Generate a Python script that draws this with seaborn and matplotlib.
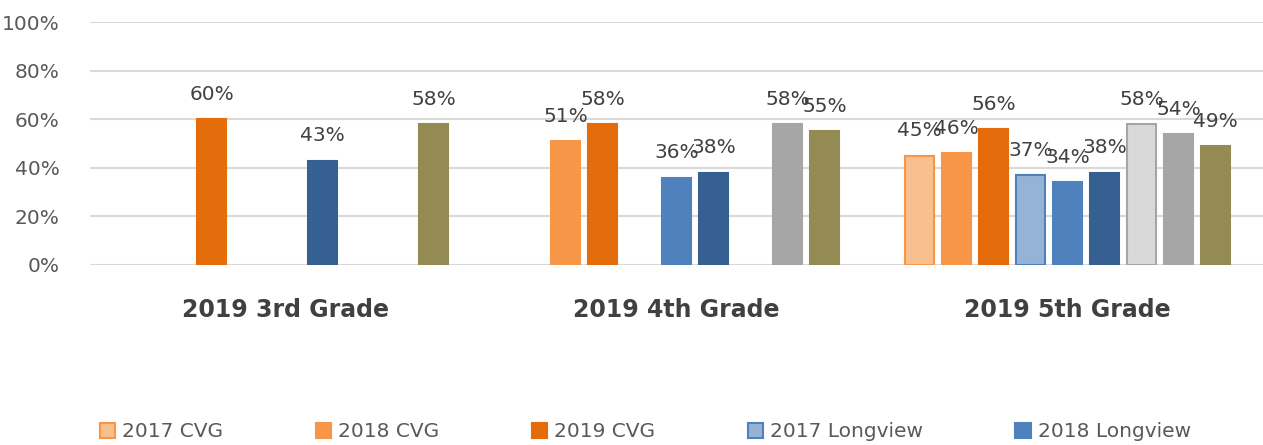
import pandas as pd
import numpy as np
import matplotlib.pyplot as plt
import seaborn as sns
from matplotlib.patches import Patch

# -----------------------------
# Dati
# -----------------------------
grades = ["2019 3rd Grade", "2019 4th Grade", "2019 5th Grade"]
series = ["2017 CVG", "2018 CVG", "2019 CVG",
          "2017 Longview", "2018 Longview", "2019 Longview",
          "2017 State", "2018 State", "2019 State"]

cvg_2017 = [np.nan, np.nan, 45]
cvg_2018 = [np.nan, 51, 46]
cvg_2019 = [60, 58, 56]
longview_2017 = [np.nan, np.nan, 37]
longview_2018 = [np.nan, 36, 34]
longview_2019 = [43, 38, 38]
state_2017 = [np.nan, np.nan, 58]
state_2018 = [np.nan, 58, 54]
state_2019 = [58, 55, 49]

fill_colors = ["#f9c08f", "#f79646", "#e46c0a",
               "#95b3d7", "#4f81bd", "#366092",
               "#d9d9d9", "#a6a6a6", "#948a54"]
edge_colors = ["#f79646", "#f79646", "#e46c0a",
               "#4f81bd", "#4f81bd", "#366092",
               "#a6a6a6", "#a6a6a6", "#948a54"]

values = [cvg_2017, cvg_2018, cvg_2019, longview_2017, longview_2018,
          longview_2019, state_2017, state_2018, state_2019]

rows = []
for s, vals in zip(series, values):
    for g, v in zip(grades, vals):
        rows.append({"Grade": g, "Serie": s, "Value": v})
df = pd.DataFrame(rows)

# -----------------------------
# Grafico
# -----------------------------
sns.set_style("white")
plt.rcParams['font.family'] = ['DejaVu Sans']

fig = plt.figure(figsize=(12.63, 4.45), dpi=100)
ax = fig.add_axes([0.0713, 0.4045, 0.9287, 0.546])

sns.barplot(data=df.dropna(), x="Grade", y="Value", hue="Serie",
            hue_order=series, order=grades, palette=fill_colors,
            saturation=1, width=0.852, gap=0.22, dodge=True, legend=False,
            ax=ax, err_kws={'linewidth': 0})

for cont, ec in zip(ax.containers, edge_colors):
    for bar in cont:
        bar.set_edgecolor(ec)
        bar.set_linewidth(1.5)
    ax.bar_label(cont, fmt='{:.0f}%', padding=11, fontsize=14.5, color="#404040")

ax.set_ylim(0, 100)
ax.set_xlim(-0.5, 2.5)
ax.set_yticks([0, 20, 40, 60, 80, 100])
ax.set_yticklabels(["0%", "20%", "40%", "60%", "80%", "100%"],
                   fontsize=14.5, color="#595959")
ax.yaxis.grid(True, color="#d9d9d9", linewidth=1.5)
ax.set_axisbelow(True)
ax.tick_params(axis='y', length=0, pad=22)
ax.tick_params(axis='x', length=0, pad=24)
for lab in ax.get_xticklabels():
    lab.set_fontsize(17)
    lab.set_fontweight("bold")
    lab.set_color("#404040")
ax.set_xlabel("")
ax.set_ylabel("")
sns.despine(ax=ax, left=True, bottom=True)

# legenda (visibili solo le prime voci)
handles = [Patch(facecolor=fc, edgecolor=ec, linewidth=1.5)
           for fc, ec in zip(fill_colors[:5], edge_colors[:5])]
leg = fig.legend(handles, series[:5], loc="center", bbox_to_anchor=(0.511, 0.03),
                 ncol=5, frameon=False, fontsize=14.5, handlelength=0.75,
                 handleheight=0.75, handletextpad=0.35, columnspacing=4.6)
for t in leg.get_texts():
    t.set_color("#595959")

fig.savefig("out.png", dpi=100)
